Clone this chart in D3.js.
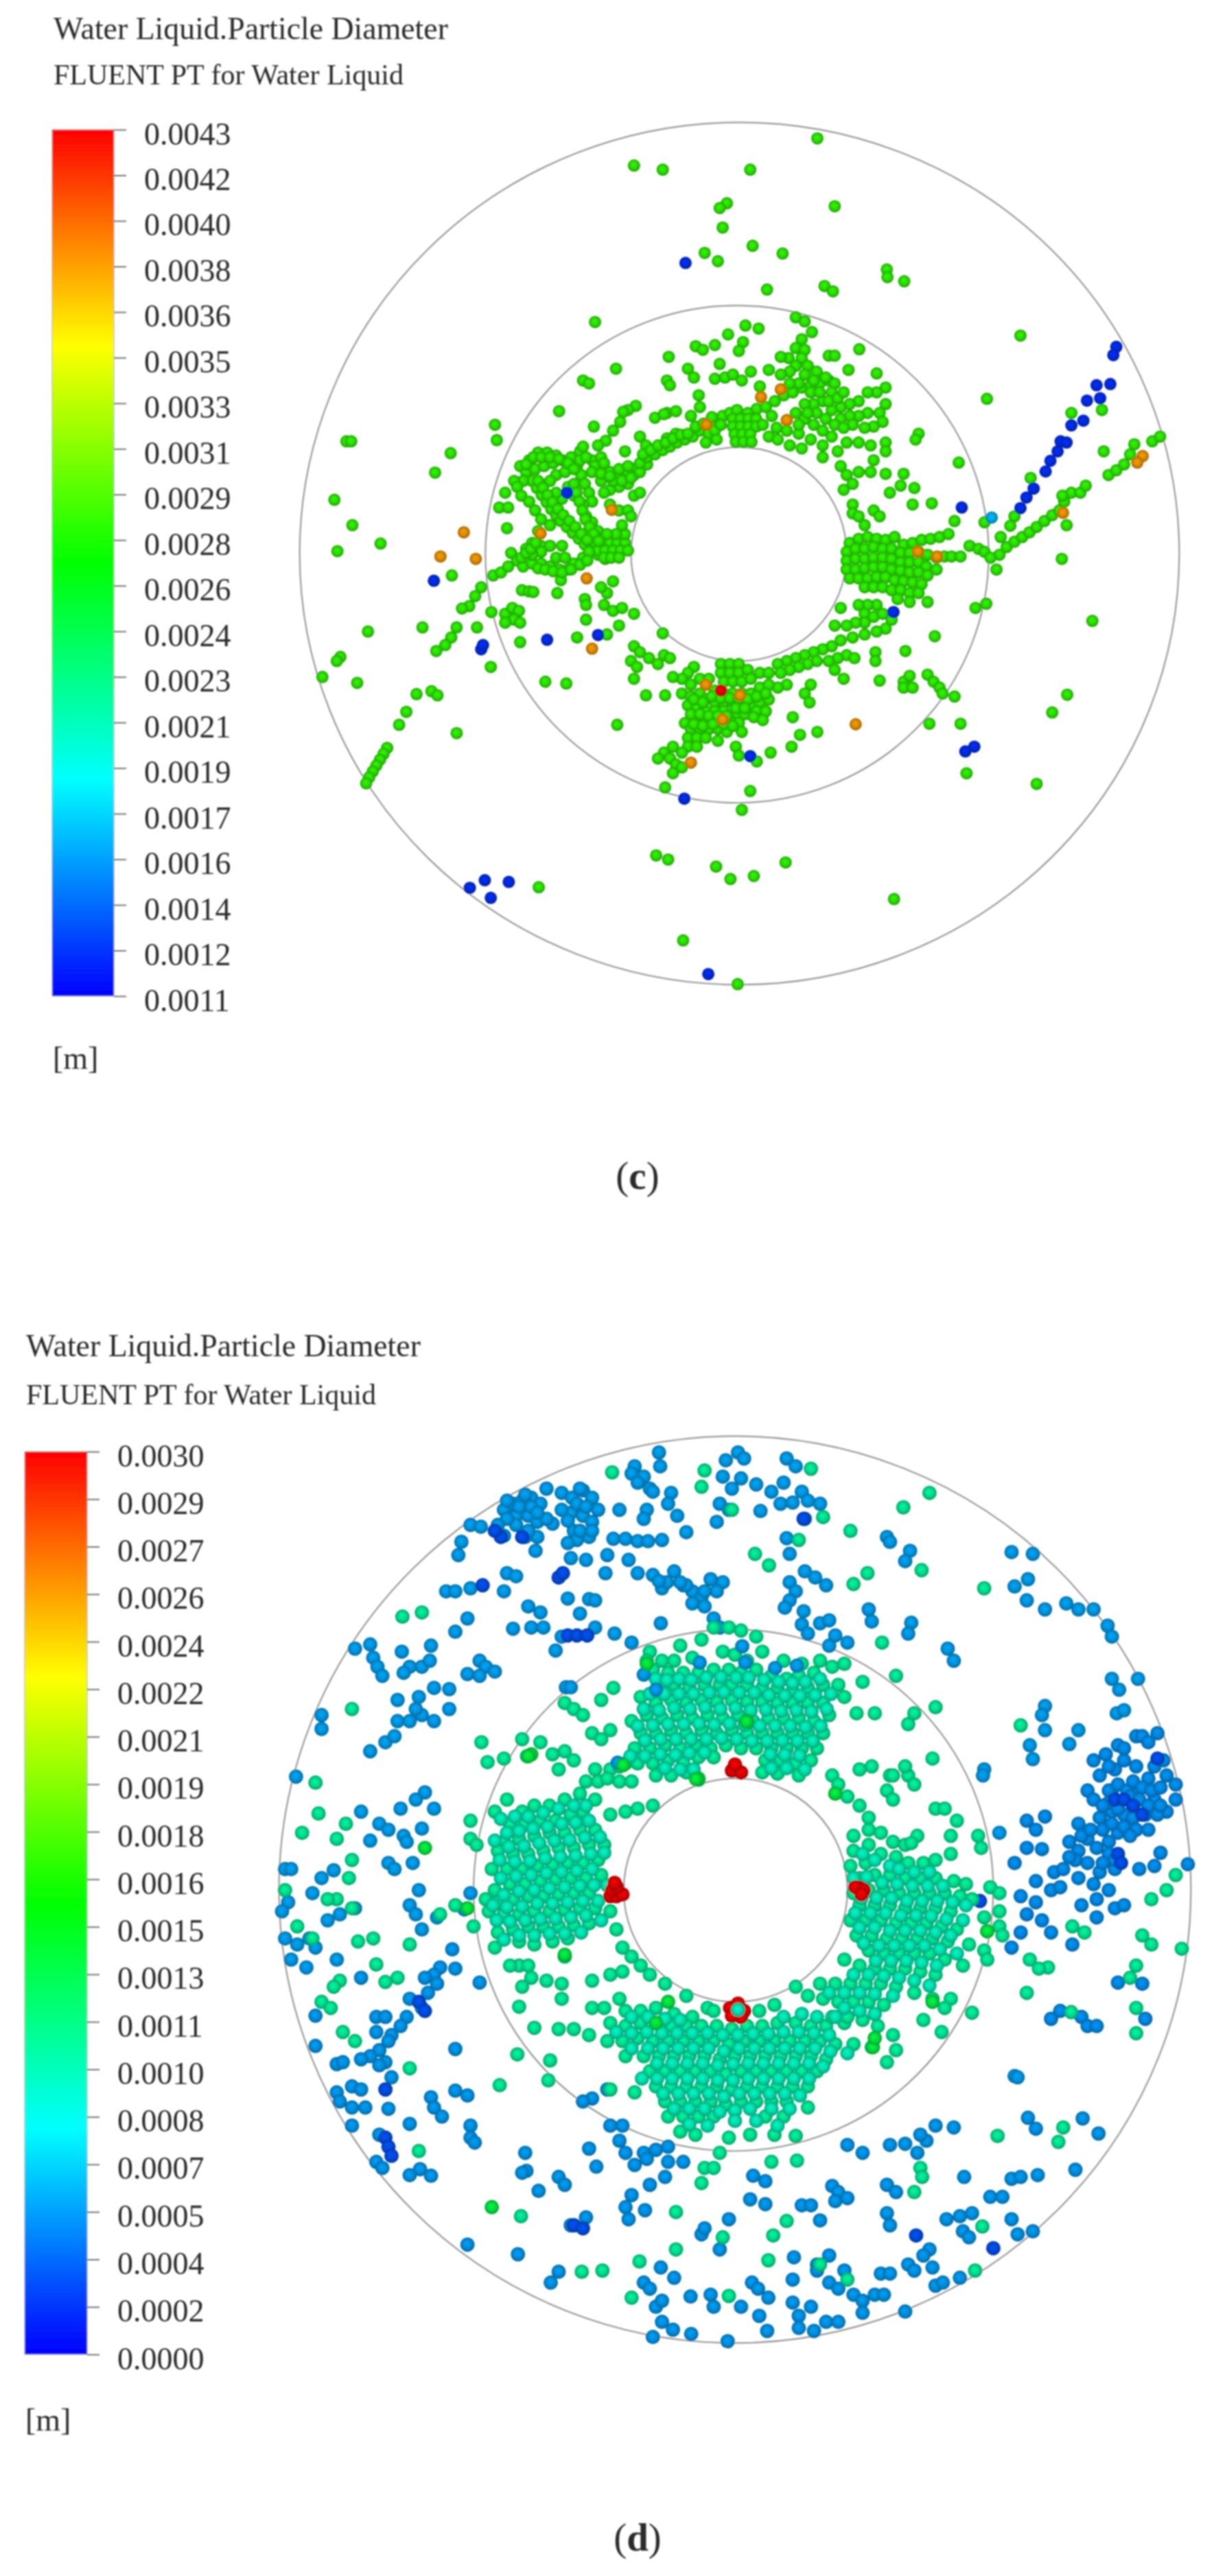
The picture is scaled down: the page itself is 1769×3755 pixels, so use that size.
<!DOCTYPE html>
<html><head><meta charset="utf-8">
<script src="https://cdnjs.cloudflare.com/ajax/libs/d3/7.8.5/d3.min.js"></script>
<style>html,body{margin:0;padding:0;background:#fff}svg{display:block}text{font-family:"Liberation Serif",serif;fill:#2b2b2b}</style>
</head><body><svg id="chart" width="1769" height="3755"></svg>
<script>
const titleMain="Water Liquid.Particle Diameter";
const titleSub="FLUENT PT for Water Liquid";
const unitLabel="[m]";
const ticksC=["0.0043","0.0042","0.0040","0.0038","0.0036","0.0035","0.0033","0.0031","0.0029","0.0028","0.0026","0.0024","0.0023","0.0021","0.0019","0.0017","0.0016","0.0014","0.0012","0.0011"];
const ticksD=["0.0030","0.0029","0.0027","0.0026","0.0024","0.0022","0.0021","0.0019","0.0018","0.0016","0.0015","0.0013","0.0011","0.0010","0.0008","0.0007","0.0005","0.0004","0.0002","0.0000"];
const rampStops=["#0000ff","#00ffff","#00ff00","#ffff00","#ff0000"];
/* wall ellipses, read as [left,right,top,bottom] in the plane's reading units */
const wallsC=[[42,1510,33,1493],[352,1192,343,1185],[595,955,583,945]];
const wallsD=[[30,1530,38,1540],[350,1205,358,1222],[597,965,605,975]];

/* Panel (c) droplets: flat x,y lists per diameter class */
const cGreenOuter=[906,60,600,106,648,113,794,113,755,170,743,178,935,175,748,211,798,242,718,254,740,268,848,255,1022,282,1023,295,1051,302,918,310,932,319,822,316,535,371,1245,394,1189,501,120,573,128,573,294,593,268,626,368,545,371,571,100,672,130,715,177,746,105,759,296,800,156,895,247,888,110,938,104,945,80,972,138,982,237,1001,262,996,272,1003,220,1031,208,1053,304,1067,188,1092,182,1102,176,1112,170,1122,164,1132,158,1142,153,1152,361,955,452,980,487,983,572,1053,637,1274,657,1281,737,1293,761,1314,800,1309,853,1286,441,1328,1034,1348,682,1418,773,1492,780,1197,794,1165,652,1159,1272,1153,1155,1135,1298,1032,1323,1002,1145,1051,1093,1051,1365,877,1314,772,1384,590,1142,609,345,820,335,835,325,852,313,856,304,888,295,905,285,918,270,928,338,888,1205,790,1210,765,1222,752,1235,743,1248,735,1260,727,1272,718,1285,708,1298,698,1310,690,1318,675,1330,660,1345,660,1354,648,1315,665,1322,715,1392,630,1405,622,1418,612,1428,595,1435,578,1465,573,1478,565,1330,525,1381,520,1262,635,1235,700,1228,716,1212,735,1185,710,1135,708,1097,678,1065,680,1068,652,1050,628,1045,648,1027,660,1075,560,1070,570,1170,855,1188,848,1102,903];
const cGreenLeft=[430,640,438,652,446,664,454,676,462,688,470,698,478,708,488,718,498,728,508,738,518,748,528,756,540,765,552,772,505,615,512,630,518,645,525,660,530,675,520,700,530,710,540,725,550,735,535,745,548,745,560,745,572,745,585,745,540,758,552,758,565,758,578,758,590,758,550,770,562,770,575,770,585,730,570,730,555,730,410,615,425,605,440,592,455,592,470,597,420,625,435,620,450,615,465,610,480,605,495,600,510,590,530,605,545,600,550,620,560,625,575,630,590,625,600,630,605,618,590,645,575,650,560,655,545,640,470,630,485,625,460,640,490,650,500,665,515,680,480,670,470,660,415,640,400,640,385,660,375,685,390,685,388,720,405,650,412,665,425,675,435,690,445,705,460,715,440,725,430,745,445,750,460,750,480,750,395,762,405,775,415,785,430,780,445,780,460,785,475,790,490,790,500,780,515,770,525,760,365,800,378,795,390,785,445,760,430,765,420,755,550,660,560,680,575,690,590,690,600,665,610,660,595,700,580,715,470,770,485,770,413,825,425,827,432,828,478,808,472,830,518,840,520,850,555,830,545,820,565,810,550,850,565,860,580,855,600,865,575,885,520,875,505,905,555,900,385,865,397,855,408,860,400,875,410,880,385,880,362,862,410,913,500,645,504,660,509,675,514,690,519,705,526,718,533,730,541,742,440,640,448,652,456,664,464,676,473,688,482,698,492,708,502,718,512,730,522,740,440,788,452,790,465,793,480,795,495,790,510,782,522,775,412,770,420,762,428,755,436,745,420,612,432,600,445,600,460,600,475,603,490,610,500,620,510,605,520,600,535,615,550,610,565,640,580,640,595,635,610,625,622,612,530,625,545,628,560,632,575,620,590,615];
const cGreenTop=[475,522,515,470,525,475,570,450,658,430,655,470,660,478,690,450,700,465,703,412,715,418,735,410,757,392,786,377,808,382,782,405,775,420,743,442,735,467,752,465,765,460,780,470,795,455,810,480,825,452,708,495,710,515,655,525,670,522,635,533,650,527,603,513,590,520,582,523,577,540,565,555,533,548,553,572,540,580,515,582,610,565,585,590,620,580,655,568,670,560,695,530,610,610,622,600,635,595,648,588,660,582,672,575,685,570,698,565,710,555,722,548,735,540,748,530,760,525,772,520,790,525,805,518,820,515,835,505,850,495,865,490,880,482,895,478,910,475,925,470,765,535,778,535,791,535,804,535,765,548,778,548,791,548,804,548,768,561,781,561,794,561,770,574,783,574,796,574,830,530,815,545,838,550,825,565,615,595,628,588,640,580,653,575,665,568,678,562,690,560,703,548,716,543,730,532,725,560,735,555,745,545,738,570,720,575];
const cGreenTopRight=[870,363,885,370,897,388,880,400,870,415,858,432,845,430,885,418,880,432,870,445,860,455,845,460,890,445,905,455,920,465,935,475,930,490,900,470,885,460,875,475,860,475,925,428,935,428,958,452,1005,458,976,417,1020,482,1005,490,990,490,975,505,960,510,945,515,1020,510,1010,525,990,525,975,530,960,530,1015,540,1000,548,985,550,965,545,945,535,930,520,915,505,900,510,885,510,870,525,885,535,900,545,915,555,930,565,915,580,915,600,895,570,875,560,855,555,840,570,860,580,880,585,940,590,955,575,975,575,995,580,1020,575,1020,590,1000,605,945,615,955,630,965,645,975,625,995,625,1020,628,950,655,965,680,965,695,975,700,985,715,1000,690,1010,700,895,490,910,490,925,505,940,500,950,490,905,525,920,535,935,545,950,550,890,525,875,545];
const cGreenRight=[960,745,975,738,990,735,1005,738,1020,740,1035,735,1050,748,1065,745,1080,740,1095,738,1110,735,1125,730,955,760,970,755,985,755,1000,752,1015,755,1030,755,1045,762,1060,762,1075,760,1090,765,1105,770,1118,768,1130,768,1145,768,1160,750,1175,755,1185,760,1195,770,955,775,970,772,985,772,1000,770,1015,770,1030,772,1045,778,1060,778,1075,778,1088,785,955,790,970,790,985,788,1000,786,1015,786,1030,790,1045,792,1060,795,1075,795,1090,800,1105,790,960,805,975,805,990,805,1005,803,1020,803,1035,808,1050,810,1065,812,1080,815,985,820,1000,820,1015,820,1030,825,1045,825,1060,830,1075,830,1090,845,1060,845,1040,840];
const cGreenLower=[1005,850,990,850,975,850,945,855,985,865,1000,870,1015,865,1030,875,1020,890,1005,895,985,880,970,880,955,885,935,885,985,900,965,905,945,910,930,920,915,925,900,930,885,935,870,940,855,945,840,950,955,935,968,940,940,940,925,945,905,945,890,950,875,955,860,960,845,965,1003,930,1003,945,1053,928,935,960,950,975,1010,978,855,985,895,985,885,1000,893,1015,865,1040,840,990,1050,980,1060,970,1050,990,1065,990,1090,968,1100,980,1110,990,1115,1000,1135,1005,745,950,760,950,775,950,745,965,760,965,775,965,790,960,750,980,765,980,780,980,795,975,810,965,825,965,700,955,690,965,680,975,695,985,710,975,725,975,735,995,750,1000,765,1000,780,1000,795,1000,810,990,825,985,680,1000,695,1005,710,1000,720,1010,735,1015,750,1015,765,1015,780,1018,795,1020,810,1015,825,1010,690,1020,705,1025,720,1030,735,1030,750,1030,770,1035,785,1035,805,1030,820,1030,700,1040,715,1045,730,1045,760,1045,775,1050,685,1050,695,1060,710,1060,725,1060,740,1060,755,1065,780,1065,690,1075,705,1075,720,1075,740,1080,690,1090,705,1090,680,1100,665,1090,650,1100,640,1110,660,1110,670,1120,680,1125,665,1135,770,1090,775,1105,805,1115,828,1100,863,1090,877,1070,906,1065,600,920,610,930,625,940,650,935,660,940,595,945,605,955,640,950,600,975,665,972,620,1003,652,1003,648,898,700,1010,715,1015,730,1005,745,1008,760,1008,775,1008,790,1010,805,1005,820,1000,695,1035,710,1035,725,1038,740,1038,755,1038,770,1025,785,1025,800,1040,815,1045,700,1052,715,1055,732,1052,750,1052,765,1055];
const cBlue=[686,271,1405,413,1400,427,1372,478,1395,476,1356,504,1378,500,1350,538,1330,546,1312,573,1322,575,1307,590,1295,606,1287,624,1267,653,1255,668,1245,686,1147,685,266,809,345,925,348,918,455,909,540,901,1033,862,1153,1098,1168,1090,794,1106,684,1178,326,1329,351,1316,391,1319,361,1346,724,1475,488,660];
const cCyan=[1197,702];
const cOrange=[316,727,277,768,336,772,1449,598,1440,609,1316,694,970,1052,530,924,444,729,563,689,521,805,721,545,855,537,1074,760,1106,768,695,1117,720,985,777,1003,748,1044,812,498,845,485];
const cRed=[745,995];

/* Panel (d) droplets */
const dTealTop=[640,395,690,385,725,375,745,355,770,355,790,360,815,370,660,410,680,410,710,405,760,395,780,400,800,410,825,395,860,410,890,415,920,410,645,425,670,430,695,430,720,430,745,425,770,425,790,430,815,425,840,435,865,440,885,435,910,430,940,420,960,415,655,455,680,450,705,455,730,450,755,450,775,450,800,450,825,455,850,455,875,460,900,455,925,450,950,450,990,445,1045,435,625,470,650,480,675,475,700,480,725,475,750,478,775,475,800,478,825,478,850,480,875,480,900,480,925,480,960,470,610,510,635,500,660,505,685,500,710,505,735,500,760,505,785,500,810,510,835,505,860,505,885,505,910,510,935,500,980,497,1010,497,625,530,650,530,675,525,700,530,725,525,750,530,775,525,800,530,825,530,850,530,875,530,900,530,925,530,615,555,640,555,665,550,690,555,715,550,740,555,765,550,790,555,815,555,840,555,865,555,890,555,915,555,600,580,620,580,645,580,670,575,695,580,720,570,745,570,830,575,855,575,880,580,905,575,650,600,675,600,700,595,825,595,850,597,885,600,720,607,500,480,515,490,530,500,560,475,580,455,545,530,575,525,500,560,515,575,490,590,430,540,460,545,363,545,373,578,400,572,438,568,480,565,560,540,635,410,550,590,575,590,590,585,535,610,555,610,570,605,590,610,610,610];
const dTealLeft=[620,655,645,650,600,660,575,665,550,640,525,630,500,640,475,650,450,650,430,660,405,640,385,660,345,675,530,660,510,665,485,675,460,675,435,680,410,680,550,690,525,690,500,695,475,695,450,700,425,705,400,710,345,705,355,715,565,715,540,715,515,720,490,720,465,725,440,730,415,730,390,725,555,740,530,745,505,745,480,748,455,750,430,755,405,755,380,755,560,765,535,770,510,770,485,772,460,775,435,780,410,780,385,790,540,795,515,795,490,797,465,800,440,800,415,805,390,810,370,805,550,820,525,820,500,822,475,825,450,825,425,830,400,830,375,825,540,845,515,848,490,850,465,850,440,850,415,855,390,860,575,825,585,855,505,870,480,875,450,880,425,875,500,900,595,885,610,900,625,915,640,930,385,885,425,915,440,915,410,915,445,935,470,940,430,950,495,945,495,970,425,983,350,850];
const dTealBottom=[545,940,575,930,595,925,665,945,700,965,735,985,545,985,565,985,590,970,600,990,625,990,650,985,680,995,710,1000,745,990,820,990,845,980,575,1010,600,1015,625,1010,650,1010,675,1015,700,1015,725,1015,750,1015,775,1020,800,1015,825,1015,850,1010,880,1010,905,1015,930,1015,960,1010,570,1040,595,1040,620,1035,645,1040,670,1040,695,1040,720,1040,745,1040,770,1045,795,1040,820,1040,845,1040,870,1040,895,1040,920,1040,945,1045,975,1045,1005,1050,600,1065,630,1065,655,1065,680,1065,705,1065,730,1065,755,1070,780,1065,805,1065,830,1065,855,1065,880,1065,905,1065,930,1070,640,1090,665,1090,690,1090,715,1090,740,1090,765,1095,790,1090,815,1090,840,1090,865,1090,890,1090,915,1090,650,1115,675,1115,700,1115,725,1115,750,1115,775,1120,800,1115,825,1115,850,1115,875,1115,900,1115,575,1120,615,1125,665,1140,690,1140,715,1140,740,1140,765,1145,790,1140,815,1140,840,1140,865,1140,900,1150,670,1165,695,1165,720,1165,745,1165,830,1165,860,1165,690,1190,715,1195,770,1200,805,1195,845,1195,880,1197,755,1225,490,1020,515,1020,450,1018,540,1030];
const dTealRight=[1000,690,1020,695,975,700,1040,710,1060,715,1000,715,975,725,1020,730,1045,735,970,750,995,745,1065,745,1090,745,985,770,1010,765,1035,765,1060,770,1085,770,1110,770,1140,775,1160,780,1200,785,1215,795,975,795,1000,790,1025,790,1050,795,1075,795,1100,795,1125,795,1150,800,1170,805,1215,825,985,815,1010,815,1035,815,1060,820,1085,820,1110,820,1135,825,1190,835,1215,850,970,840,995,840,1020,840,1045,845,1070,845,1095,845,1120,850,1145,855,1195,858,1220,865,980,865,1005,865,1030,870,1055,870,1080,870,1105,870,1130,875,1165,880,1190,890,1000,890,1025,895,1050,895,1075,895,1100,895,1125,905,1155,915,1195,905,960,905,985,915,1010,920,1035,920,1060,920,1085,925,1110,930,920,945,945,945,970,945,995,945,1020,945,1045,950,1075,960,1105,970,1135,970,880,950,900,965,925,970,950,975,975,975,1000,975,1025,980,940,1000,965,1000,990,1005,1015,1015,1040,1030,1090,1005,1120,1025,1170,993,1125,985,1030,1075,1045,1055,940,600,950,615,965,635,985,650,1000,670,1035,600,1065,600,1075,615,1030,625,1040,640,1110,655,1125,655,1145,675,1135,700,1110,740,1135,730,1180,700,1185,720,1080,700,1070,712,1005,585,985,590,1105,572,1065,515,1075,497,1110,487,1040,600,1060,585];
const dTealDense=[650,440,668,442,688,440,708,442,733,438,757,437,782,438,803,438,828,442,852,445,875,447,896,445,920,440,640,465,664,465,688,465,712,465,738,463,762,462,787,463,812,463,836,467,862,468,887,468,912,467,938,465,630,490,655,492,680,488,706,490,731,487,756,490,781,488,806,492,831,491,856,493,881,492,906,494,931,490,620,518,645,517,670,515,696,515,721,514,746,516,771,514,796,516,821,518,846,518,871,518,896,520,921,518,632,542,658,540,683,540,708,540,733,540,758,538,783,540,808,543,833,543,858,542,883,543,908,543,608,568,632,568,657,565,682,566,705,563,730,562,838,565,862,566,886,567,665,588,690,590,712,590,840,588,865,588,895,590,535,650,515,650,490,655,465,662,440,668,418,668,395,672,540,675,518,678,495,680,472,685,448,688,425,692,405,695,558,702,533,703,508,707,483,708,458,712,433,717,408,718,385,708,565,728,543,730,518,733,493,735,468,737,443,742,418,743,393,740,545,755,520,758,495,760,470,762,445,765,420,767,395,770,570,782,548,782,525,783,500,785,475,787,450,790,425,792,400,798,555,808,530,808,505,810,480,812,455,812,430,817,405,818,382,815,535,832,510,835,485,837,460,838,435,840,410,842,388,840,560,840,527,860,500,862,475,862,450,865,425,865,400,872,610,1000,637,1000,665,1003,690,1005,860,1000,890,995,915,1000,945,1000,585,1025,610,1027,635,1025,660,1027,685,1027,710,1027,735,1027,760,1030,785,1030,810,1028,835,1028,860,1025,885,1025,910,1027,935,1030,610,1052,637,1052,662,1052,687,1052,712,1052,737,1052,762,1057,787,1052,812,1052,837,1052,862,1052,887,1052,912,1052,937,1057,965,1060,652,1077,677,1077,702,1077,727,1077,752,1080,777,1078,802,1077,827,1077,852,1077,877,1077,902,1077,925,1082,627,1102,652,1102,677,1102,702,1102,727,1102,752,1105,777,1105,802,1102,827,1102,852,1102,877,1102,902,1102,662,1127,687,1127,712,1127,737,1127,762,1132,787,1127,812,1127,837,1127,862,1127,887,1130,680,1152,705,1152,730,1152,755,1157,780,1155,805,1152,840,1152,870,1152,705,1178,735,1180,780,1172,815,1172,850,1180,990,730,1010,740,1035,750,1050,755,1075,760,1100,760,975,770,997,768,1022,778,1047,780,1072,783,1097,783,1122,783,988,803,1013,803,1038,803,1063,808,1088,808,1113,808,1138,810,1160,815,978,828,1003,828,1028,828,1053,832,1078,832,1103,833,1128,838,1155,840,985,852,1010,852,1035,857,1060,857,1085,857,1110,860,1135,865,992,878,1017,882,1042,882,1067,882,1092,882,1117,888,1145,895,1012,907,1037,907,1062,907,1087,910,1112,915,975,930,1000,930,1025,932,1050,935,1075,940,1100,948,935,960,960,960,985,960,1010,962,1040,965,960,985,985,990,1010,995];
const dTealOuter=[233,337,265,330,150,490,95,663,90,612,68,695,125,705,140,680,1190,290,970,195,1100,132,1057,156,1087,260,998,265,975,283,1022,380,1250,517,813,233,836,252,578,98,730,95,725,122,775,160,885,210,905,92,925,172,1335,850,1355,860,1465,880,1450,865,1515,887,1490,790,1465,805,1505,765,1265,905,1295,918,1280,920,1260,960,1440,915,1430,935,1440,985,1440,1027,1333,992,1212,1197,1320,1183,1312,1207,882,1238,840,1240,730,1250,745,1250,725,1275,428,1330,528,1422,562,1420,683,1323,683,1385,623,1405,610,1465,770,1462,760,1365,843,1362,865,1338,835,1403,920,1410,965,1435,1175,1420,1187,1347,1085,1250,1088,1265,1075,1290,393,1113,473,1105,476,1072,422,1062,245,1085,260,1222,190,913,225,935,205,942,130,940,120,950,100,975,115,985,135,1025,155,1040,150,820,125,805,110,805,85,870,60,850,40,790,160,875,185,870,150,740,145,770,245,880,295,830,320,815];
const dBlueA=[400,160,415,150,430,145,445,140,460,150,470,125,495,132,512,140,530,128,545,140,555,160,590,160,420,170,440,170,455,180,480,183,510,165,530,170,545,180,515,195,520,210,540,205,400,203,435,205,455,205,452,228,345,185,362,188,330,213,325,235,580,208,600,208,620,212,637,212,660,210,510,240,535,243,570,235,605,243,567,265,620,265,645,268,660,290,680,262,695,285,710,295,725,305,710,315,730,320,745,340,755,355,760,280,750,295,640,125,655,65,657,88,615,88,610,100,630,105,620,115,645,130,675,132,670,150,685,170,635,160,630,175,700,197,765,78,785,65,795,75,760,105,790,108,815,118,775,125,755,150,770,160,750,180,865,75,880,88,860,115,840,130,890,130,855,150,875,148,900,145,920,150,895,175,822,162,1030,205,1035,213,865,207,870,233,1068,228,1060,245,895,262,912,272,930,285,870,280,880,295,870,310,862,322,893,328,920,348,935,343,890,350,900,365,935,385,945,368,965,380,1000,325,1005,345,1070,347,1065,365,1130,390,1140,410,1235,230,1270,233,1262,275,1240,287,1260,310,1290,325,1325,315,1345,325,1370,325,1393,352,1400,370,1400,440,1412,458,1443,440,1408,497,1420,492,1290,485,1285,500,1290,525,1345,525,1330,548,1265,550,1270,573,1190,590,1188,600,1215,695,1240,1098,1245,1100,405,145,425,155,445,155,420,185,405,175,390,185,440,195,470,175,495,160,520,150,535,155,505,178,525,195,455,165,435,135,525,125,505,215,545,195,700,285,690,280,668,280,730,295,740,275,655,278];
const dBlueB=[1440,535,1475,530,1410,550,1390,565,1370,575,1380,600,1405,590,1420,575,1440,585,1460,605,1490,600,1505,615,1360,625,1370,640,1400,625,1440,630,1470,640,1490,660,1505,640,1380,670,1400,660,1420,665,1435,670,1455,665,1475,665,1345,680,1385,690,1410,695,1440,690,1330,710,1345,725,1360,705,1375,720,1395,710,1480,728,1445,755,1470,750,1525,747,1405,755,1380,760,1370,780,1395,790,1260,675,1290,668,1275,690,1260,720,1285,722,1240,745,1275,775,1305,760,1320,755,1300,790,1315,785,1250,800,1275,810,1260,830,1285,840,1300,860,1250,860,1235,885,1375,835,1350,815,1375,805,1405,820,1420,815,1335,880,1410,943,1450,945,1300,1003,1315,990,1350,1000,1360,1015,1375,1015,1455,1003,1395,625,1410,615,1425,625,1435,610,1450,620,1465,625,1480,620,1395,645,1410,655,1430,635,1445,640,1460,650,1480,650,1385,650,1400,680,1420,685,1430,700,1460,690,1395,730,1405,740,1350,700,1365,690,1340,740,1360,745,1385,745,1330,735,1345,770,1450,535,1460,545,1420,555,1395,585,1470,585,1485,575];
const dBlueC=[305,295,320,295,345,290,400,295,405,265,420,270,340,340,320,362,440,320,460,330,445,355,415,357,465,355,495,370,550,355,582,365,658,348,610,380,540,308,550,310,505,307,525,332,485,393,155,390,180,383,185,405,192,420,200,435,232,395,245,420,235,430,280,385,265,420,278,410,340,432,360,410,370,420,385,428,360,435,285,455,310,457,260,470,225,475,100,500,100,523,180,560,205,545,220,535,225,510,245,510,265,500,285,510,310,490,255,490,58,602,165,660,180,708,195,680,210,690,230,655,270,628,255,640,285,655,265,688,235,700,240,710,210,745,220,755,250,745,120,757,100,770,40,755,50,755,85,795,155,820,45,810,35,825,130,830,110,840,40,870,80,870,90,885,60,880,50,905,75,918,125,905,245,815,255,830,260,790,265,855,345,795,290,835,335,822];
const dBlueD=[315,888,295,918,285,930,270,935,290,945,275,960,265,985,245,970,240,1000,230,1015,215,1030,320,920,360,943,165,935,90,998,190,1000,205,1000,190,1025,210,1040,90,1048,195,1055,180,1065,165,1070,125,1078,135,1075,205,1075,195,1080,320,1053,215,1100,125,1125,150,1115,165,1120,130,1140,150,1150,172,1150,210,1152,150,1180,245,1177,280,1133,285,1150,298,1165,320,1122,340,1130,345,1180,345,1200,352,1208,195,1195,190,1240,200,1250,245,1262,262,1252,280,1263,545,1135,530,1140,570,1120,595,1180,575,1180,590,1205,600,1225,630,1225,650,1220,615,1245,635,1235,670,1215,670,1240,695,1240,665,1265,640,1278,610,1295,600,1315,605,1335,632,1320,435,1225,437,1255,430,1258,540,1218,552,1248,457,1288,490,1265,500,1278,510,1345,535,1332,340,1377,423,1393,490,1422,477,1440,630,1440,640,1450,658,1415,680,1432,650,1480,660,1470,707,1463,740,1460,745,1480,790,1480,808,1440,818,1450,835,1465,820,1495,833,1520,708,1525,768,1537,645,1530,660,1505,678,1518,725,1360,730,1350,770,1335,755,1385,875,1435,877,1398,875,1473,905,1480,885,1495,885,1515,910,1520,930,1505,950,1505,915,1410,935,1395,915,1420,935,1440,960,1420,975,1460,950,1450,990,1470,990,1490,1060,1488,1010,1460,1025,1460,1020,1425,1035,1425,1065,1410,1075,1420,1105,1415,1100,1385,1090,1395,1110,1445,1122,1440,1150,1432,1030,1325,1035,1345,1128,1335,1150,1330,1170,1325,1155,1355,1165,1365,1235,1335,1245,1360,1270,1355,1200,1298,1220,1298,1030,1278,1045,1290,1157,1265,1235,1268,1250,1265,1278,1262,1340,1253,1262,1167,1275,1185,1352,1168,1378,1193,1140,1183,1110,1180,1095,1205,1085,1195,1080,1225,1060,1210,1035,1212,965,1212,990,1225,940,1280,950,1290,945,1305,965,1300,890,1312,905,1312,920,1337,805,1302,830,1310,810,1263,830,1272];
const dBlueInRing=[722,413,792,386,797,413,846,422,882,418,630,433,650,458,502,454,510,454,587,579];
const dBlueDark=[490,272,497,265,505,368,520,368,537,368,430,205,395,205,385,195,893,175,1475,572,1405,640,1420,640,1435,650,1450,665,1410,730,1415,745,515,1345,530,1350,1078,1362,1205,1383,205,1200,210,1215,215,1230,260,975,270,990,205,1120,1183,808,365,285];
const dGreen=[800,510,445,565,720,605,945,630,340,820,270,720,500,897,1195,858,670,975,380,1315,1105,975,650,1010,1007,1050,1010,1035,635,415,799,511,440,568,596,583,716,606];
const dRed=[575,800,585,800,595,797,578,790,586,785,582,778,782,590,775,592,790,595,780,582,985,786,978,785,992,790,988,797,772,985,785,978,795,990,790,1000,775,998];
const dCyanInner=[785,988];

const seriesC=[[0.00285,cGreenOuter],[0.00285,cGreenLeft],[0.00285,cGreenTop],[0.00285,cGreenTopRight],[0.00285,cGreenRight],[0.00285,cGreenLower],[0.00125,cBlue],[0.0017,cCyan],[0.0038,cOrange],[0.0043,cRed]];
const seriesD=[[0.0005,dBlueA],[0.00045,dBlueB],[0.0005,dBlueC],[0.00048,dBlueD],[0.00025,dBlueDark],[0.00102,dTealOuter],[0.00102,dTealTop],[0.00102,dTealLeft],[0.00102,dTealBottom],[0.00102,dTealRight],[0.00092,dTealDense],[0.0005,dBlueInRing],[0.0013,dGreen],[0.0030,dRed],[0.0009,dCyanInner]];

const svg=d3.select("#chart");
const defs=svg.append("defs");
defs.append("filter").attr("id","soft").attr("filterUnits","userSpaceOnUse").attr("x",0).attr("y",0).attr("width",1769).attr("height",3755)
  .append("feGaussianBlur").attr("stdDeviation",0.9);
const root=svg.append("g").attr("filter","url(#soft)");
let gid=0;

function drawPanel(o){
  const g=root.append("g");
  const t=g.append("g");
  t.append("text").attr("x",o.titleX).attr("y",o.titleY1).attr("font-size",45.8).text(titleMain);
  t.append("text").attr("x",o.titleX).attr("y",o.titleY2).attr("font-size",42).text(titleSub);
  // colour ramp
  const frac=d3.scaleLinear().domain([0,rampStops.length-1]).range([100,0]);
  const id="ramp"+(gid++);
  defs.append("linearGradient").attr("id",id).attr("x1",0).attr("x2",0).attr("y1",0).attr("y2",1)
    .selectAll("stop").data(rampStops.map((c,i)=>({c,i})).reverse()).join("stop")
    .attr("offset",d=>frac(d.i)+"%").attr("stop-color",d=>d.c);
  const yBar=d3.scalePoint().domain(o.ticks).range([o.barTop,o.barBottom]);
  g.append("rect").attr("x",o.barX).attr("y",o.barTop).attr("width",o.barW).attr("height",o.barBottom-o.barTop)
    .attr("fill",`url(#${id})`).attr("stroke","#aaa").attr("stroke-width",1);
  const axis=d3.axisRight(yBar).tickSize(18).tickPadding(26);
  const ax=g.append("g").attr("transform",`translate(${o.barX+o.barW},0)`).call(axis);
  ax.select(".domain").remove();
  ax.selectAll("line").attr("stroke","#777").attr("stroke-width",2);
  ax.selectAll("text").attr("font-size",46).attr("font-family",'"Liberation Serif",serif').attr("fill","#2b2b2b").attr("dy",null)
    .attr("dominant-baseline","auto").attr("y",21);
  g.append("text").attr("x",o.barX+1).attr("y",o.unitY).attr("font-size",46).text(unitLabel);
  // plane
  const x=d3.scaleLinear().domain([0,1568]).range(o.xRange);
  const y=d3.scaleLinear().domain([0,1568]).range(o.yRange);
  g.append("g").selectAll("ellipse").data(o.walls).join("ellipse")
    .attr("cx",d=>(x(d[0])+x(d[1]))/2).attr("cy",d=>(y(d[2])+y(d[3]))/2)
    .attr("rx",d=>(x(d[1])-x(d[0]))/2).attr("ry",d=>(y(d[3])-y(d[2]))/2)
    .attr("fill","none").attr("stroke","#9a9a9a").attr("stroke-width",2.2);
  const colorT=d3.scaleLinear().domain(o.domain).range([0,1]);
  const ramp=d3.scaleLinear().domain(d3.range(rampStops.length).map(i=>i/(rampStops.length-1))).range(rampStops);
  const ballG=g.append("g");
  o.series.forEach(([v,flat])=>{
    const c=d3.color(ramp(colorT(v)));
    const gr="ball"+(gid++);
    const lg=defs.append("radialGradient").attr("id",gr).attr("cx","50%").attr("cy","50%").attr("r","50%").attr("fx","44%").attr("fy","40%");
    lg.append("stop").attr("offset","0%").attr("stop-color",c.darker(0.05).formatHex());
    lg.append("stop").attr("offset","55%").attr("stop-color",c.darker(0.4).formatHex());
    lg.append("stop").attr("offset","100%").attr("stop-color",c.darker(1.3).formatHex());
    const pts=d3.range(0,flat.length,2).map(i=>[flat[i],flat[i+1]]);
    ballG.append("g").selectAll("circle").data(pts).join("circle")
      .attr("cx",d=>x(d[0])).attr("cy",d=>y(d[1])).attr("r",o.r).attr("fill",`url(#${gr})`);
  });
  const cap=g.append("text").attr("x",929).attr("y",o.capY).attr("font-size",57).attr("text-anchor","middle").attr("fill","#000");
  cap.append("tspan").text("(");
  cap.append("tspan").attr("font-weight","bold").text(o.cap);
  cap.append("tspan").text(")");
}
drawPanel({titleX:78,titleY1:57,titleY2:123,ticks:ticksC,barX:76,barW:90,barTop:189,barBottom:1452,unitY:1558,
  xRange:[400,1769],yRange:[150,1500],walls:wallsC,domain:[0.0011,0.0043],series:seriesC,r:9,cap:"c",capY:1733});
drawPanel({titleX:38,titleY1:1977,titleY2:2047,ticks:ticksD,barX:36,barW:91,barTop:2116,barBottom:3432,unitY:3543,
  xRange:[380,1769],yRange:[2060,3440],walls:wallsD,domain:[0,0.0030],series:seriesD,r:10.5,cap:"d",capY:3718});
</script></body></html>
